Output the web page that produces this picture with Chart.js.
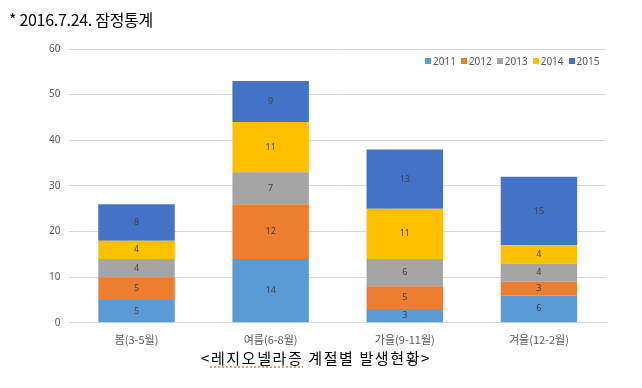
<!DOCTYPE html>
<html>
<head>
<meta charset="utf-8">
<script src="https://cdn.jsdelivr.net/npm/chart.js@4"></script>
<style>
  body { margin: 0; background: #fff; }
  #wrap { position: relative; width: 642px; height: 388px; overflow: hidden; }
  #chart { position: absolute; left: 0; top: 0; }
  #note { position: absolute; left: 9px; top: 7px; font: 16px "Noto Sans CJK KR", sans-serif; color: #000; letter-spacing: -0.3px; }
  #caption { position: absolute; left: 0; width: 632px; top: 347px; text-align: center; font: 15px "Noto Sans CJK KR", sans-serif; color: #000; letter-spacing: 1.6px; }
  .sp { text-decoration: underline dotted #d9822b; text-underline-offset: 3px; }
  #legend { position: absolute; left: 425px; top: 54px; font: 10px "Noto Sans", sans-serif; color: #595959; white-space: nowrap; }
  #legend span.item { display: inline-block; margin-right: 5px; }
  #legend i { display: inline-block; width: 6px; height: 6px; margin-right: 2px; vertical-align: 1px; }
</style>
</head>
<body>
<div id="wrap">
  <canvas id="chart" width="642" height="388"></canvas>
  <div id="note">* 2016.7.24. 잠정통계</div>
  <div id="legend"></div>
  <div id="caption">&lt;<span class="sp">레지오넬라증</span> 계절별 발생현황&gt;</div>
</div>
<script>
const seasons = ['봄(3-5월)', '여름(6-8월)', '가을(9-11월)', '겨울(12-2월)'];
const years = ['2011', '2012', '2013', '2014', '2015'];
const v2011 = [5, 14, 3, 6];
const v2012 = [5, 12, 5, 3];
const v2013 = [4, 7, 6, 4];
const v2014 = [4, 11, 11, 4];
const v2015 = [8, 9, 13, 15];
const colors = ['#5B9BD5', '#ED7D31', '#A5A5A5', '#FFC000', '#4472C4'];

// numbers in the middle of each segment
const segLabels = {
    id: 'segLabels',
    afterDatasetsDraw(chart) {
        const ctx = chart.ctx;
        ctx.save();
        ctx.font = '9px "Noto Sans", sans-serif';
        ctx.fillStyle = '#404040';
        ctx.textAlign = 'center';
        ctx.textBaseline = 'middle';
        chart.data.datasets.forEach(function(ds, i) {
            chart.getDatasetMeta(i).data.forEach(function(bar, j) {
                const mid = (bar.y + bar.base) / 2;
                ctx.fillText(ds.data[j], bar.x, mid);
            });
        });
        ctx.restore();
    }
};

const allValues = [v2011, v2012, v2013, v2014, v2015];

const chart = new Chart(document.getElementById('chart').getContext('2d'), {
    type: 'bar',
    data: {
        labels: seasons,
        datasets: years.map(function(y, i) {
            return {
                label: y,
                data: allValues[i],
                backgroundColor: colors[i],
                borderWidth: 0,
                barPercentage: 0.57,
                categoryPercentage: 1
            };
        })
    },
    options: {
        responsive: false,
        animation: false,
        layout: { padding: { left: 40, right: 36, top: 49, bottom: 40 } },
        plugins: {
            legend: { display: false },
            tooltip: { enabled: false }
        },
        scales: {
            x: {
                stacked: true,
                grid: { display: false },
                border: { color: '#d9d9d9' },
                ticks: { color: '#595959', padding: 2, font: { size: 11, family: '"Noto Sans CJK KR", sans-serif' } }
            },
            y: {
                stacked: true,
                min: 0,
                max: 60,
                ticks: { stepSize: 10, color: '#595959', padding: 9, font: { size: 10, family: '"Noto Sans", sans-serif' } },
                grid: { color: '#d9d9d9', drawTicks: false },
                border: { display: false }
            }
        }
    },
    plugins: [segLabels]
});

// html legend from the datasets
const legend = document.getElementById('legend');
chart.data.datasets.forEach(function(ds) {
    const item = document.createElement('span');
    item.className = 'item';
    const box = document.createElement('i');
    box.style.background = ds.backgroundColor;
    item.appendChild(box);
    item.appendChild(document.createTextNode(ds.label));
    legend.appendChild(item);
});
</script>
</body>
</html>
